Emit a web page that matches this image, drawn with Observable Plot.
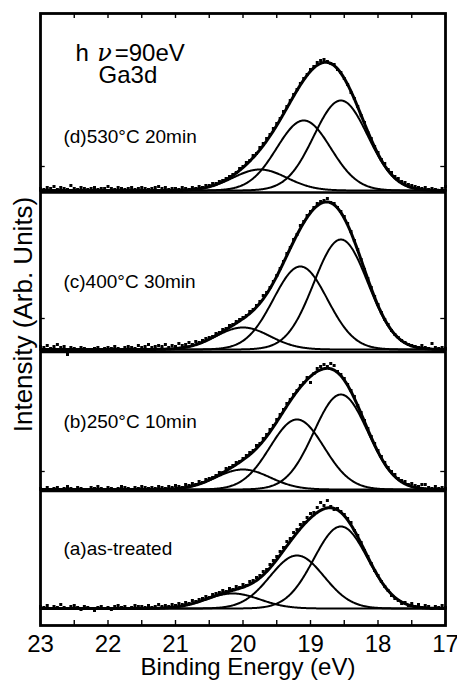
<!DOCTYPE html>
<html><head><meta charset="utf-8">
<script src="https://cdn.jsdelivr.net/npm/d3@7"></script>
<script src="https://cdn.jsdelivr.net/npm/@observablehq/plot@0.6"></script>
<style>body{margin:0;background:#fff}</style>
</head><body><div id="chart"></div>
<script>
// Measured points: binding energy grid 23.00 -> 17.00 eV every 0.05 eV (121 points)
const energyStart = 23, energyStep = 0.05, energyCount = 121;

// Intensities (arb. units, above each spectrum's own baseline)
const counts_a = [2,1,3,0,2,1,4,1,0,2,3,1,-1,2,1,0,-2,1,2,0,1,-1,2,3,1,2,0,1,3,2,
  2,1,3,1,2,4,2,3,2,4,3,5,4,6,5,8,7,9,10,12,11,14,15,16,18,17,20,19,22,21,
  24,23,27,28,31,33,37,39,44,48,52,57,61,67,70,76,79,84,86,91,95,96,101,106,103,108,102,99,100,97,
  94,90,86,78,73,66,58,52,45,38,33,27,22,18,13,10,8,5,6,3,5,2,4,1,3,2,0,2,1,3,1];
const counts_b = [1,0,2,-1,1,2,0,1,3,1,0,2,1,-1,0,2,1,3,1,0,2,1,0,1,3,2,1,0,2,1,3,2,1,2,1,3,
  2,1,3,2,4,3,2,5,4,6,5,8,7,10,11,12,14,17,17,21,22,24,27,28,
  31,34,37,39,44,46,51,55,60,64,70,75,80,86,90,95,99,104,107,112,107,116,121,123,125,123,126,124,118,115,
  111,105,99,93,84,77,69,61,53,46,39,33,27,22,18,15,11,9,8,5,6,4,3,5,5,2,1,3,1,2,1];
const counts_c = [3,2,4,1,3,5,2,3,-5,2,1,0,2,1,-1,0,1,2,0,1,2,1,3,1,0,2,3,2,1,4,2,3,5,2,3,4,
  3,5,2,4,3,6,4,5,7,5,8,7,9,11,12,13,16,17,20,21,24,25,28,30,
  32,34,38,40,44,48,54,57,62,68,74,81,88,96,102,110,115,124,128,134,138,142,146,148,149,151,147,146,142,138,
  133,126,118,109,100,90,80,71,62,53,45,37,30,25,19,15,12,9,7,5,4,3,2,4,2,1,6,2,1,2,1];
const counts_d = [2,1,3,2,4,1,3,2,1,5,2,1,3,2,1,2,3,1,2,2,4,2,1,3,2,1,2,3,1,2,3,2,1,2,3,4,2,3,1,2,
  2,1,3,2,1,3,2,4,3,5,5,7,7,9,10,12,14,16,18,22,
  24,28,30,35,37,43,47,52,56,62,67,72,79,84,90,96,101,107,112,116,
  121,124,128,130,131,129,127,126,121,118,112,106,98,92,84,75,68,58,52,44,
  38,31,27,21,18,14,12,9,8,6,5,4,3,2,3,1,2,1,0,2,4];

// Fitted Gaussian components: centre (eV), peak height, width (sigma, eV)
const compCenters_a = [20.15, 19.20, 18.55], compHeights_a = [15, 53, 82];
const compCenters_b = [20.00, 19.20, 18.55], compHeights_b = [20, 70, 95];
const compCenters_c = [20.00, 19.15, 18.55], compHeights_c = [22, 83, 110];
const compCenters_d = [19.75, 19.10, 18.55], compHeights_d = [21, 70, 90];
const compSigma = 0.4;

const panelLabels = ["(a)as-treated", "(b)250°C 10min", "(c)400°C 30min", "(d)530°C 20min"];
const xTickLabels = [23, 22, 21, 20, 19, 18, 17];
const xTicks = [23, 22.5, 22, 21.5, 21, 20.5, 20, 19.5, 19, 18.5, 18, 17.5, 17];

// ---- layout (stacking offsets in y units = px) ----
const offsets = [17, 136, 276, 435];
const separators = [134.5, 273.5, 433];
const sideTicks = [154, 307, 459];
const labelY = [71, 198, 338, 483];
const labelX = 22.66;

const panelDefs = [
  {counts: counts_a, centers: compCenters_a, heights: compHeights_a},
  {counts: counts_b, centers: compCenters_b, heights: compHeights_b},
  {counts: counts_c, centers: compCenters_c, heights: compHeights_c},
  {counts: counts_d, centers: compCenters_d, heights: compHeights_d}
];

const energies = d3.range(energyCount).map(i => +(energyStart - i * energyStep).toFixed(2));
const fineE = d3.range(601).map(i => +(23 - i * 0.01).toFixed(2));

const points = [], comps = [], envs = [];
panelDefs.forEach((p, k) => {
  p.counts.forEach((v, i) => points.push({e: energies[i], y: offsets[k] + v}));
  fineE.forEach(e => {
    let sum = 0;
    p.centers.forEach((c, j) => {
      const g = p.heights[j] * Math.exp(-((e - c) ** 2) / (2 * compSigma ** 2));
      sum += g;
      comps.push({key: k + "-" + j, e, y: offsets[k] + g});
    });
    envs.push({key: k, e, y: offsets[k] + sum});
  });
});

const font = "'Liberation Sans', Arial, Helvetica, sans-serif";

const chart = Plot.plot({
  width: 457, height: 681,
  marginLeft: 40, marginRight: 12, marginTop: 13, marginBottom: 56,
  style: {fontFamily: font, background: "white", color: "black"},
  x: {domain: [23, 17], axis: null},
  y: {domain: [0, 612], axis: null},
  marks: [
    Plot.line(comps, {x: "e", y: "y", z: "key", stroke: "black", strokeWidth: 2}),
    Plot.line(envs, {x: "e", y: "y", z: "key", stroke: "black", strokeWidth: 3}),
    Plot.dot(points, {x: "e", y: "y", symbol: "square", r: 1.7, fill: "black", stroke: "none"}),
    Plot.ruleY(separators, {y: d => d, stroke: "black", strokeWidth: 2.6}),
    Plot.ruleX(xTicks, {x: d => d, y1: 0, y2: 5, stroke: "black", strokeWidth: 1.4}),
    Plot.ruleX(xTicks, {x: d => d, y1: 612, y2: 607, stroke: "black", strokeWidth: 1.4}),
    Plot.ruleY(sideTicks, {y: d => d, x1: 23, x2: 22.93, stroke: "black", strokeWidth: 1.3}),
    Plot.ruleY(sideTicks, {y: d => d, x1: 17, x2: 17.07, stroke: "black", strokeWidth: 1.3}),
    Plot.frame({stroke: "black", strokeWidth: 2.8}),
    Plot.text(panelLabels, {x: labelX, y: (d, i) => labelY[i], text: d => d, textAnchor: "start", lineAnchor: "bottom", fontSize: 19}),
    Plot.text(["h"], {x: 22.48, y: 565, text: d => d, textAnchor: "start", lineAnchor: "bottom", fontSize: 24}),
    Plot.text(["ν"], {x: 22.16, y: 565, text: d => d, textAnchor: "start", lineAnchor: "bottom", fontSize: 24, fontStyle: "italic", fontFamily: "'DejaVu Serif', 'Liberation Serif', serif"}),
    Plot.text(["=90eV"], {x: 21.9, y: 565, text: d => d, textAnchor: "start", lineAnchor: "bottom", fontSize: 24}),
    Plot.text(["Ga3d"], {x: 22.14, y: 543, text: d => d, textAnchor: "start", lineAnchor: "bottom", fontSize: 24}),
    Plot.text(xTickLabels, {x: d => d, text: d => String(d), frameAnchor: "bottom", dy: 26, textAnchor: "middle", lineAnchor: "bottom", fontSize: 24, ariaLabel: "xticklabels"}),
    Plot.text(["Binding Energy (eV)"], {frameAnchor: "bottom", dx: 5, dy: 49, textAnchor: "middle", lineAnchor: "bottom", fontSize: 24}),
    Plot.text(["Intensity (Arb. Units)"], {frameAnchor: "left", rotate: -90, dx: -17, dy: -5, textAnchor: "middle", lineAnchor: "middle", fontSize: 26, ariaLabel: "ylabel"})
  ]
});

function stretch(el, sx, sy) {
  const x = +el.getAttribute("x") || 0, y = +el.getAttribute("y") || 0;
  el.removeAttribute("x"); el.removeAttribute("y");
  const t = el.getAttribute("transform") || "";
  el.setAttribute("transform", `${t} translate(${x},${y}) scale(${sx},${sy})`);
}
chart.querySelectorAll('g[aria-label="xticklabels"] text').forEach(el => stretch(el, 1, 1.22));
chart.querySelectorAll('g[aria-label="ylabel"] text').forEach(el => stretch(el, 1.2, 1));

document.getElementById("chart").appendChild(chart);
</script>
</body></html>
